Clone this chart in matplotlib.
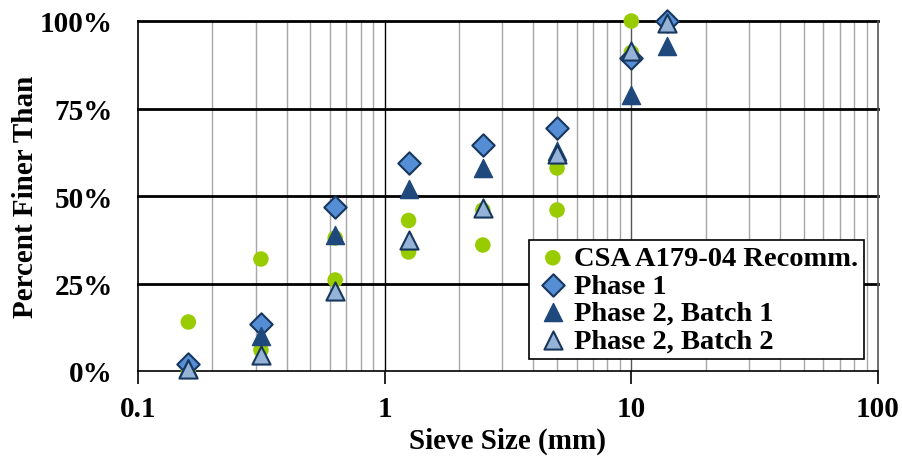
import matplotlib
matplotlib.use("Agg")
import matplotlib.pyplot as plt
from matplotlib.ticker import FixedLocator, NullFormatter, FuncFormatter

csa_x = [0.16, 0.16, 0.315, 0.315, 0.63, 0.63, 1.25, 1.25, 2.5, 2.5, 5, 5, 10, 10]
csa_y = [14, 0, 32, 6, 38, 26, 43, 34, 46, 36, 58, 46, 100, 91]

sieve = [0.16, 0.315, 0.63, 1.25, 2.5, 5, 10, 14]
phase1 = [2, 13.5, 47, 59.5, 64.5, 69.5, 89.5, 100]
p2b1 = [1, 10, 39, 52, 58, 63, 79, 93]
p2b2 = [0.5, 4.5, 23, 37.5, 46.5, 62, 91.5, 99.5]

plt.rcParams['font.family'] = ['Liberation Serif', 'DejaVu Serif']
plt.rcParams['font.weight'] = 'bold'

fig = plt.figure(figsize=(9.03, 4.6), dpi=100)
ax = fig.add_axes([138/903, 1-372/460, (878-138)/903, (372-22)/460])
ax.set_xscale('log')
ax.set_xlim(0.1, 100)
ax.set_ylim(0, 100)

# grid
minors = [m*10**e for e in (-1, 0, 1) for m in range(2, 10)]
for v in minors:
    ax.axvline(v, color='#a6a6a6', lw=1.0, zorder=0)
for v in [1, 10]:
    ax.axvline(v, color='#000000' if v == 1 else '#555555', lw=1.0, zorder=0)
for h in [25, 50, 75, 100]:
    ax.axhline(h, color='black', lw=2.0, zorder=1, clip_on=False)

ax.scatter(csa_x, csa_y, marker='o', s=125, color='#99cc00', edgecolors='none', zorder=3, clip_on=False, label='CSA A179-04 Recomm.')
ax.scatter(sieve, phase1, marker='D', s=130, color='#558ed5', edgecolors='#17375e', linewidths=1.5, zorder=4, clip_on=False, label='Phase 1')
ax.scatter(sieve, p2b1, marker='^', s=170, color='#1f497d', edgecolors='#1f497d', linewidths=1.0, zorder=5, clip_on=False, label='Phase 2, Batch 1')
ax.scatter(sieve, p2b2, marker='^', s=170, color='#95b3d7', edgecolors='#17375e', linewidths=1.5, zorder=6, clip_on=False, label='Phase 2, Batch 2')

for s in ['left', 'bottom', 'right']:
    ax.spines[s].set_color('black')
    ax.spines[s].set_linewidth(1.2)
ax.spines['top'].set_visible(False)
ax.spines['right'].set_color('#555555')

ax.xaxis.set_major_locator(FixedLocator([0.1, 1, 10, 100]))
ax.xaxis.set_major_formatter(FuncFormatter(lambda v, p: {0.1: '0.1', 1: '1', 10: '10', 100: '100'}.get(round(v, 3), '')))
ax.xaxis.set_minor_locator(FixedLocator([]))
ax.xaxis.set_minor_formatter(NullFormatter())
ax.tick_params(axis='x', which='major', direction='out', length=9, width=1.2, labelsize=21, pad=8)
ax.set_yticks([0, 25, 50, 75, 100])
ax.set_yticklabels(['0%', '25%', '50%', '75%', '100%'])
ax.tick_params(axis='y', length=0, labelsize=21, pad=18)
for lbl in ax.get_xticklabels() + ax.get_yticklabels():
    lbl.set_fontweight('bold')

ax.set_xlabel('Sieve Size (mm)', fontsize=21, fontweight='bold', labelpad=4)
ax.set_ylabel('Percent Finer Than', fontsize=21, fontweight='bold', labelpad=1)

leg = ax.legend(loc='lower right', bbox_to_anchor=((864-138)/740, (372-360)/350), frameon=True,
                fancybox=False, edgecolor='black', framealpha=1,
                handletextpad=0.1, borderpad=0.2, labelspacing=0.05, handlelength=1.3,
                borderaxespad=0, prop={'weight': 'bold', 'size': 20.5})
leg.get_frame().set_linewidth(1.2)
leg.set_zorder(10)

fig.savefig('out.png', dpi=100)
